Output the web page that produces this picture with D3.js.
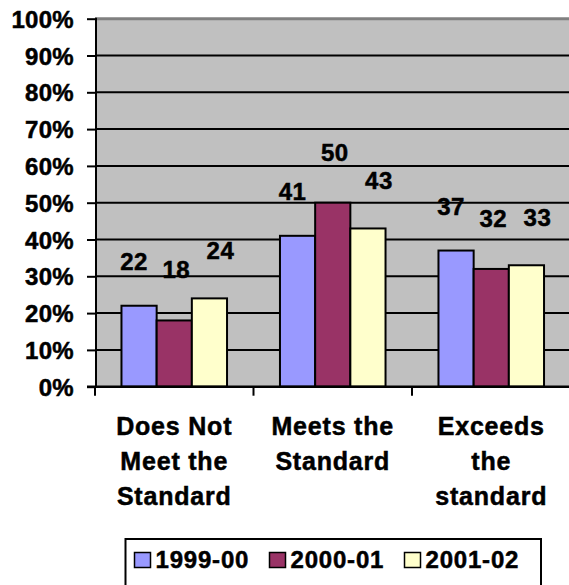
<!DOCTYPE html>
<html>
<head>
<meta charset="utf-8">
<script src="https://cdn.jsdelivr.net/npm/d3@7"></script>
<style>
  body { margin: 0; background: #fff; }
  text { font-family: Arial, "Liberation Sans", sans-serif; font-weight: bold; fill: #000; stroke: #000; stroke-width: 0.5px; }
</style>
</head>
<body>
<div id="chart"></div>
<script>
var categories = [
	['Does Not', 'Meet the', 'Standard'],
	['Meets the', 'Standard'],
	['Exceeds', 'the', 'standard']
];
var series = ['1999-00', '2000-01', '2001-02'];
var values = [
	[22, 41, 37],   // 1999-00
	[18, 50, 32],   // 2000-01
	[24, 43, 33]    // 2001-02
];
var yTicks = [0, 10, 20, 30, 40, 50, 60, 70, 80, 90, 100];

var width = 569;
var height = 585;
var colors = ['#9999ff', '#993366', '#ffffcc'];
// Excel-like label nudges per series
var labelDx = [-5, 2, 11];
var labelDy = [-36, -42, -39];

var svg = d3.select('#chart')
	.append('svg')
	.attr('width', width)
	.attr('height', height);

var x_scale = d3.scaleBand()
	.domain(d3.range(categories.length))
	.range([95, 570.5])
	.paddingInner(0)
	.paddingOuter(0);
var bar_w = x_scale.bandwidth() * 0.222;
var group_off = (x_scale.bandwidth() - bar_w * 3) / 2;

var y_scale = d3.scaleLinear()
	.domain([0, 100])
	.range([386.7, 18.7]);

// plot area
svg.append('rect')
	.attr('x', x_scale.range()[0])
	.attr('y', y_scale(100))
	.attr('width', x_scale.range()[1] - x_scale.range()[0] + 10)
	.attr('height', y_scale(0) - y_scale(100))
	.attr('fill', '#c0c0c0');

// gridlines
svg.append('g')
	.selectAll('line')
	.data(yTicks.filter(function (d) { return d > 0 && d < 100; }))
	.enter()
	.append('line')
	.attr('x1', 95)
	.attr('x2', width)
	.attr('y1', function (d) { return y_scale(d); })
	.attr('y2', function (d) { return y_scale(d); })
	.attr('stroke', '#000')
	.attr('stroke-width', 2);

svg.append('line')
	.attr('x1', 95).attr('x2', width)
	.attr('y1', y_scale(100)).attr('y2', y_scale(100))
	.attr('stroke', '#808080')
	.attr('stroke-width', 3);

// bars
series.forEach(function (s, si) {
	svg.append('g')
		.selectAll('rect')
		.data(values[si])
		.enter()
		.append('rect')
		.attr('x', function (d, i) { return x_scale(i) + group_off + si * bar_w; })
		.attr('y', function (d) { return y_scale(d); })
		.attr('width', bar_w)
		.attr('height', function (d) { return y_scale(0) - y_scale(d); })
		.attr('fill', colors[si])
		.attr('stroke', '#000')
		.attr('stroke-width', 2);

	svg.append('g')
		.selectAll('text')
		.data(values[si])
		.enter()
		.append('text')
		.text(function (d) { return d; })
		.attr('x', function (d, i) { return x_scale(i) + group_off + (si + 0.5) * bar_w + labelDx[si]; })
		.attr('y', function (d) { return y_scale(d) + labelDy[si]; })
		.attr('text-anchor', 'middle')
		.style('font-size', '24px')
		.style('letter-spacing', '0.5px');
});

// y axis
var y_axis = d3.axisLeft(y_scale)
	.tickValues(yTicks)
	.tickSize(9)
	.tickPadding(13)
	.tickFormat(function (d) { return d + '%'; });
var gy = svg.append('g')
	.attr('transform', 'translate(96,0)')
	.call(y_axis);
gy.select('.domain').remove();
gy.selectAll('.tick line').attr('stroke', '#000').attr('stroke-width', 2);
gy.selectAll('.tick text')
	.attr('dy', '0.36em')
	.attr('fill', '#000')
	.style('font-size', '24px')
	.style('font-family', 'Arial, "Liberation Sans", sans-serif')
	.style('font-weight', 'bold')
	.style('letter-spacing', '0.3px');
svg.append('line')
	.attr('x1', 96).attr('x2', 96)
	.attr('y1', y_scale(100) - 1).attr('y2', y_scale(0) + 1)
	.attr('stroke', '#000').attr('stroke-width', 2);

// x axis
svg.append('line')
	.attr('x1', 87).attr('x2', width)
	.attr('y1', y_scale(0)).attr('y2', y_scale(0))
	.attr('stroke', '#000').attr('stroke-width', 2.5);
svg.append('g')
	.selectAll('line')
	.data(d3.range(categories.length))
	.enter()
	.append('line')
	.attr('x1', function (d) { return x_scale(d); })
	.attr('x2', function (d) { return x_scale(d); })
	.attr('y1', y_scale(0))
	.attr('y2', y_scale(0) + 9)
	.attr('stroke', '#000').attr('stroke-width', 2);

var cat = svg.append('g')
	.selectAll('text')
	.data(categories)
	.enter()
	.append('text')
	.attr('text-anchor', 'middle')
	.style('font-size', '25px')
	.style('letter-spacing', '0.8px');
cat.selectAll('tspan')
	.data(function (d, i) { return d.map(function (t) { return { t: t, i: i }; }); })
	.enter()
	.append('tspan')
	.attr('x', function (d) { return x_scale(d.i) + x_scale.bandwidth() / 2; })
	.attr('y', function (d, j) { return 434.5 + j * 35.3; })
	.text(function (d) { return d.t; });

// legend
var legend = svg.append('g');
legend.append('rect')
	.attr('x', 125.5).attr('y', 539)
	.attr('width', 415.5).attr('height', 60)
	.attr('fill', '#fff')
	.attr('stroke', '#000')
	.attr('stroke-width', 2);
var item = legend.selectAll('g.item')
	.data(series)
	.enter()
	.append('g')
	.attr('class', 'item')
	.attr('transform', function (d, i) { return 'translate(' + (134.5 + i * 135) + ',552.5)'; });
item.append('rect')
	.attr('width', 16).attr('height', 15)
	.attr('fill', function (d, i) { return colors[i]; })
	.attr('stroke', '#000')
	.attr('stroke-width', 1.5);
item.append('text')
	.attr('x', 21)
	.attr('y', 15.5)
	.text(function (d) { return d; })
	.style('font-size', '24px')
	.style('letter-spacing', '0.8px');
</script>
</body>
</html>
